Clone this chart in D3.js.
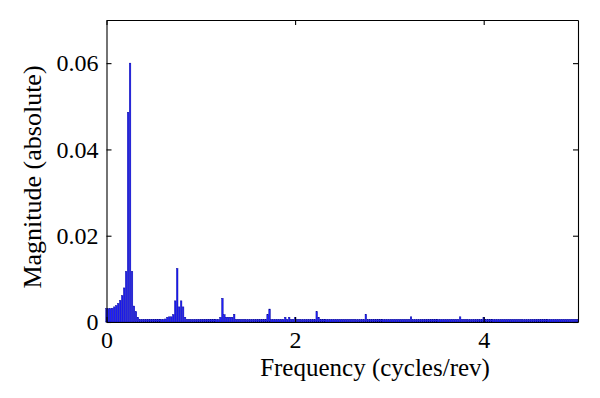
<!DOCTYPE html>
<html>
<head>
<meta charset="utf-8">
<script src="https://cdn.jsdelivr.net/npm/d3@7/dist/d3.min.js"></script>
<style>
  html, body { margin: 0; padding: 0; background: #fff; }
  svg { display: block; }
  svg text { font-family: "Liberation Serif", "Times New Roman", serif !important; fill: #000; }
</style>
</head>
<body>
<svg id="chart" width="600" height="398"></svg>
<script>
// Frequency bin spacing (cycles/rev) and magnitudes, bins k = 0..240 (k/48)
const binStep = 1 / 48;
const magnitudes = [
  // 0.00 - 0.23
  0.0031, 0.0031, 0.0031, 0.0032, 0.0035, 0.0038, 0.0043, 0.0050, 0.0061, 0.0079, 0.0117, 0.0486,
  // 0.25 - 0.48
  0.0600, 0.0117, 0.0037, 0.0024, 0.0011, 0.0006, 0.0006, 0.0006, 0.0006, 0.0006, 0.0006, 0.0006,
  // 0.50 - 0.73
  0.0006, 0.0006, 0.0006, 0.0006, 0.0006, 0.0006, 0.0007, 0.0011, 0.0012, 0.0012, 0.0017, 0.0049,
  // 0.75 - 0.98
  0.0124, 0.0035, 0.0049, 0.0035, 0.0011, 0.0006, 0.0006, 0.0006, 0.0006, 0.0006, 0.0006, 0.0006,
  // 1.00 - 1.23
  0.0006, 0.0006, 0.0006, 0.0006, 0.0006, 0.0006, 0.0006, 0.0006, 0.0006, 0.0006, 0.0011, 0.0055,
  // 1.25 - 1.48
  0.0017, 0.0011, 0.0011, 0.0011, 0.0011, 0.0018, 0.0006, 0.0006, 0.0006, 0.0006, 0.0006, 0.0006,
  // 1.50 - 1.73
  0.0006, 0.0006, 0.0006, 0.0006, 0.0006, 0.0006, 0.0006, 0.0006, 0.0006, 0.0006, 0.0017, 0.0030,
  // 1.75 - 1.98
  0.0006, 0.0006, 0.0006, 0.0006, 0.0006, 0.0006, 0.0006, 0.0011, 0.0006, 0.0011, 0.0006, 0.0006,
  // 2.00 - 2.23
  0.0010, 0.0006, 0.0006, 0.0006, 0.0006, 0.0006, 0.0006, 0.0006, 0.0006, 0.0006, 0.0006, 0.0024,
  // 2.25 - 2.48
  0.0011, 0.0006, 0.0006, 0.0006, 0.0006, 0.0006, 0.0006, 0.0006, 0.0006, 0.0006, 0.0006, 0.0006,
  // 2.50 - 2.73
  0.0006, 0.0006, 0.0006, 0.0006, 0.0006, 0.0006, 0.0006, 0.0006, 0.0006, 0.0006, 0.0006, 0.0006,
  // 2.75 - 2.98
  0.0018, 0.0006, 0.0006, 0.0006, 0.0006, 0.0006, 0.0006, 0.0006, 0.0006, 0.0006, 0.0006, 0.0006,
  // 3.00 - 3.23
  0.0006, 0.0006, 0.0006, 0.0006, 0.0006, 0.0006, 0.0006, 0.0006, 0.0006, 0.0006, 0.0006, 0.0012,
  // 3.25 - 3.48
  0.0006, 0.0006, 0.0006, 0.0006, 0.0006, 0.0006, 0.0006, 0.0006, 0.0006, 0.0006, 0.0006, 0.0006,
  // 3.50 - 3.73
  0.0006, 0.0006, 0.0006, 0.0006, 0.0006, 0.0006, 0.0006, 0.0006, 0.0006, 0.0006, 0.0006, 0.0006,
  // 3.75 - 3.98
  0.0012, 0.0006, 0.0006, 0.0006, 0.0006, 0.0006, 0.0006, 0.0006, 0.0006, 0.0006, 0.0006, 0.0006,
  // 4.00 - 4.23
  0.0010, 0.0006, 0.0006, 0.0006, 0.0006, 0.0006, 0.0006, 0.0006, 0.0006, 0.0006, 0.0006, 0.0006,
  // 4.25 - 4.48
  0.0006, 0.0006, 0.0006, 0.0006, 0.0006, 0.0006, 0.0006, 0.0006, 0.0006, 0.0006, 0.0006, 0.0006,
  // 4.50 - 4.73
  0.0006, 0.0006, 0.0006, 0.0006, 0.0006, 0.0006, 0.0006, 0.0006, 0.0006, 0.0006, 0.0006, 0.0006,
  // 4.75 - 4.98
  0.0006, 0.0006, 0.0006, 0.0006, 0.0006, 0.0006, 0.0006, 0.0006, 0.0006, 0.0006, 0.0006, 0.0006,
  // 5.00
  0.0006
];
const xTicks = [0, 2, 4];
const yTicks = [0, 0.02, 0.04, 0.06];
const xDomain = [0, 5];
const yDomain = [0, 0.07];
const xLabel = "Frequency (cycles/rev)";
const yLabel = "Magnitude (absolute)";

const data = magnitudes.map((v, k) => ({ f: k * binStep, v }));

const margin = { left: 106.5, right: 22, top: 20, bottom: 76 };
const W = 600, H = 398;
const svg = d3.select("#chart");

const x = d3.scaleLinear().domain(xDomain).range([margin.left, W - margin.right]);
const y = d3.scaleLinear().domain(yDomain).range([H - margin.bottom, margin.top]);

const barW = (x(binStep) - x(0)) * 0.78;

// bars
svg.append("g")
  .selectAll("rect")
  .data(data)
  .join("rect")
  .attr("x", d => x(d.f) - barW / 2)
  .attr("y", d => y(d.v))
  .attr("width", barW)
  .attr("height", d => y(0) - y(d.v))
  .attr("fill", "#1f1fff")
  .attr("stroke", "#00009a")
  .attr("stroke-width", 0.45);

const tickLen = 5;
const fmtY = d => d === 0 ? "0" : d3.format(".2f")(d);

function styleAxis(g) {
  g.attr("font-family", null).attr("font-size", null);
  g.selectAll("path.domain").attr("stroke", "#000").attr("stroke-width", 1.1);
  g.selectAll(".tick line").attr("stroke", "#000").attr("stroke-width", 1.1);
  g.selectAll(".tick text")
    .style("font-family", "'Liberation Serif', 'Times New Roman', serif")
    .style("font-size", "24px")
    .attr("fill", "#000");
}

svg.append("g")
  .attr("transform", `translate(0,${y(0)})`)
  .call(d3.axisBottom(x).tickValues(xTicks).tickFormat(d3.format("d")).tickSize(-tickLen).tickSizeOuter(0).tickPadding(9))
  .call(styleAxis);

svg.append("g")
  .attr("transform", `translate(0,${y(yDomain[1])})`)
  .call(d3.axisTop(x).tickValues(xTicks).tickFormat("").tickSize(-tickLen).tickSizeOuter(0))
  .call(styleAxis);

svg.append("g")
  .attr("transform", `translate(${x(0)},0)`)
  .call(d3.axisLeft(y).tickValues(yTicks).tickFormat(fmtY).tickSize(-tickLen).tickSizeOuter(0).tickPadding(8))
  .call(styleAxis);

svg.append("g")
  .attr("transform", `translate(${x(xDomain[1])},0)`)
  .call(d3.axisRight(y).tickValues(yTicks).tickFormat("").tickSize(-tickLen).tickSizeOuter(0))
  .call(styleAxis);

// axis labels
svg.append("text")
  .attr("x", 375)
  .attr("y", 376)
  .attr("text-anchor", "middle")
  .style("font-size", "25px")
  .text(xLabel);

svg.append("text")
  .attr("transform", "translate(41,177) rotate(-90)")
  .attr("text-anchor", "middle")
  .style("font-size", "26px")
  .text(yLabel);
</script>
</body>
</html>
